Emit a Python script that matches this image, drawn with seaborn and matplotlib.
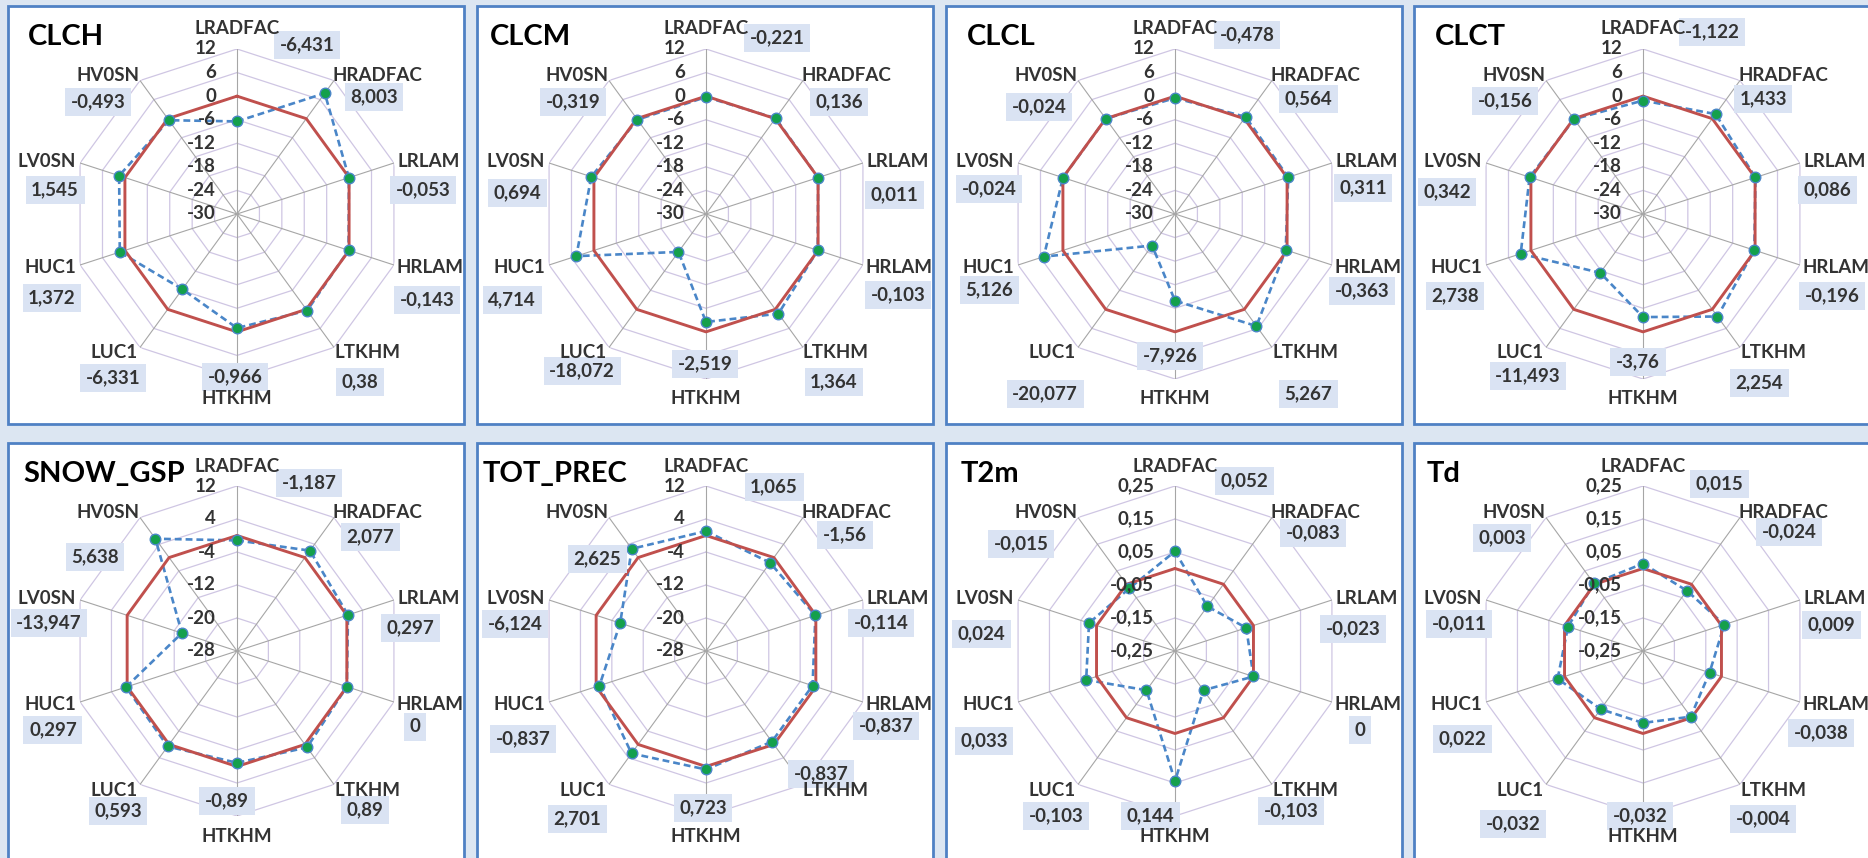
import numpy as np
import matplotlib
matplotlib.use("Agg")
import matplotlib.pyplot as plt
from matplotlib.patches import Rectangle
import seaborn as sns

sns.set_theme(style="white")
plt.rcParams["font.family"] = ["Lato", "DejaVu Sans"]

# ---------------------------------------------------------------- data
categories = ["LRADFAC", "HRADFAC", "LRLAM", "HRLAM", "LTKHM",
              "HTKHM", "LUC1", "HUC1", "LV0SN", "HV0SN"]

panel_names = ["CLCH", "CLCM", "CLCL", "CLCT",
               "SNOW_GSP", "TOT_PREC", "T2m", "Td"]

clch = [-6.431, 8.003, -0.053, -0.143, 0.38, -0.966, -6.331, 1.372, 1.545, -0.493]
clcm = [-0.221, 0.136, 0.011, -0.103, 1.364, -2.519, -18.072, 4.714, 0.694, -0.319]
clcl = [-0.478, 0.564, 0.311, -0.363, 5.267, -7.926, -20.077, 5.126, -0.024, -0.024]
clct = [-1.122, 1.433, 0.086, -0.196, 2.254, -3.76, -11.493, 2.738, 0.342, -0.156]
snow_gsp = [-1.187, 2.077, 0.297, 0, 0.89, -0.89, 0.593, 0.297, -13.947, 5.638]
tot_prec = [1.065, -1.56, -0.114, -0.837, -0.837, 0.723, 2.701, -0.837, -6.124, 2.625]
t2m = [0.052, -0.083, -0.023, 0, -0.103, 0.144, -0.103, 0.033, 0.024, -0.015]
td = [0.015, -0.024, 0.009, -0.038, -0.004, -0.032, -0.032, 0.022, -0.011, 0.003]

reference = 0.0  # baseline series (red polygon)

ticks_cloud = [-30, -24, -18, -12, -6, 0, 6, 12]
ticks_precip = [-28, -20, -12, -4, 4, 12]
ticks_temp = [-0.25, -0.15, -0.05, 0.05, 0.15, 0.25]

series = [clch, clcm, clcl, clct, snow_gsp, tot_prec, t2m, td]
panel_ticks = [ticks_cloud, ticks_cloud, ticks_cloud, ticks_cloud,
               ticks_precip, ticks_precip, ticks_temp, ticks_temp]

# ---------------------------------------------------------------- layout
W, H = 1868, 858
panel_left = [8, 477, 946, 1414]
panel_top = [6, 443]
panel_w, panel_h = 456, 418
radius = 165

# category label centres relative to the radar centre (px, y down)
cat_offsets = [(0, -185), (140, -138), (192, -52), (193, 54), (130, 139),
               (0, 185), (-123, 139), (-187, 54), (-190, -52), (-129, -138)]

# value box centres relative to the radar centre (px, y down)
value_offsets = [
    [(70, -169), (137, -117), (186, -24), (190, 86), (123, 168), (-2, 163), (-124, 164), (-185, 84), (-182, -24), (-139, -112)],
    [(71, -176), (133, -112), (188, -19), (192, 81), (128, 168), (-1, 150), (-124, 157), (-194, 86), (-189, -21), (-133, -112)],
    [(72, -179), (133, -115), (188, -26), (187, 77), (133, 180), (-5, 142), (-130, 180), (-186, 76), (-186, -25), (-136, -107)],
    [(69, -182), (120, -115), (184, -24), (189, 82), (116, 169), (-5, 148), (-115, 162), (-188, 82), (-196, -22), (-138, -113)],
    [(72, -168), (133, -114), (173, -23), (178, 76), (128, 159), (-10, 150), (-119, 160), (-184, 79), (-188, -28), (-142, -94)],
    [(68, -164), (139, -116), (175, -28), (180, 75), (115, 123), (-3, 157), (-129, 168), (-183, 88), (-191, -27), (-109, -92)],
    [(69, -170), (138, -118), (178, -22), (185, 79), (116, 160), (-25, 165), (-119, 165), (-191, 90), (-194, -17), (-154, -107)],
    [(76, -167), (146, -119), (188, -26), (178, 82), (120, 168), (-3, 165), (-130, 173), (-181, 88), (-184, -27), (-141, -113)],
]
title_dx = [20, 13, 21, 21, 15, 6, 15, 13]

# ---------------------------------------------------------------- style
BG = "#dce6f2"
FRAME = "#4f81c4"
RING = "#cfc6e3"
SPOKE = "#a6a6a6"
RED = "#c0504d"
BLUE = "#4a86c8"
GREEN = "#14a04c"
TEXT = "#333333"
BOX = "#dae3f3"
FS = 13.5


def fmt(v):
    s = f"{v:.3f}".rstrip("0").rstrip(".")
    if s in ("-0", ""):
        s = "0"
    return s.replace(".", ",")


fig = plt.figure(figsize=(W / 100, H / 100), dpi=100)
fig.patch.set_facecolor(BG)

n = len(categories)
theta = np.arange(n) * 2 * np.pi / n
theta_closed = np.append(theta, theta[0])

for k, name in enumerate(panel_names):
    row, col = divmod(k, 4)
    px, py = panel_left[col], panel_top[row]
    fig.add_artist(Rectangle((px / W, 1 - (py + panel_h) / H), panel_w / W, panel_h / H,
                             transform=fig.transFigure, facecolor="white",
                             edgecolor=FRAME, linewidth=2, zorder=-1))
    fig.text((px + title_dx[k]) / W, 1 - (py + 18) / H, name, ha="left", va="top",
             fontsize=21, fontweight="bold", color="black")

    cx, cy = px + 229, py + 208
    ax = fig.add_axes([(cx - radius) / W, 1 - (cy + radius) / H,
                       2 * radius / W, 2 * radius / H], projection="polar")
    ax.set_theta_zero_location("N")
    ax.set_theta_direction(-1)
    ticks = panel_ticks[k]
    rmin, rmax = ticks[0], ticks[-1]
    ax.set_ylim(rmin, rmax)
    ax.grid(False)
    ax.spines["polar"].set_visible(False)
    ax.set_xticks([])
    ax.set_yticks([])
    ax.patch.set_alpha(0)

    # polygonal rings and spokes
    for t in ticks[1:]:
        ax.plot(theta_closed, [t] * (n + 1), color=RING, lw=0.9, zorder=1)
    for t in theta:
        ax.plot([t, t], [rmin, rmax], color=SPOKE, lw=0.8, zorder=1)

    vals = np.asarray(series[k], dtype=float)
    vals_closed = np.append(vals, vals[0])
    base_closed = np.full(n + 1, reference)

    sns.lineplot(x=theta_closed, y=vals_closed, ax=ax, sort=False, estimator=None,
                 color=BLUE, lw=1.9, linestyle=(0, (2.6, 1.5)), zorder=3)
    sns.lineplot(x=theta_closed, y=base_closed, ax=ax, sort=False, estimator=None,
                 color=RED, lw=2.1, zorder=4)
    sns.scatterplot(x=theta, y=vals, ax=ax, s=58, color=GREEN, edgecolor=BLUE,
                    linewidth=1.0, zorder=5, clip_on=False)
    ax.set_xlabel("")
    ax.set_ylabel("")
    ax.set_ylim(rmin, rmax)

    # radial tick labels along the top spoke
    for t in ticks:
        frac = (t - rmin) / (rmax - rmin)
        ax.text(0.5 - 21 / (2 * radius), 0.5 + frac / 2, fmt(round(t, 2)),
                transform=ax.transAxes, ha="right", va="center",
                fontsize=FS, fontweight="bold", color=TEXT, zorder=6, clip_on=False)

    # category names and value boxes
    for i, cat in enumerate(categories):
        vx, vy = value_offsets[k][i]
        ax.text(0.5 + vx / (2 * radius), 0.5 - vy / (2 * radius), fmt(vals[i]),
                transform=ax.transAxes, ha="center", va="center",
                fontsize=FS, fontweight="bold", color=TEXT, clip_on=False, zorder=7,
                bbox=dict(boxstyle="square,pad=0.3", facecolor=BOX, edgecolor="none"))
        dx, dy = cat_offsets[i]
        ax.text(0.5 + dx / (2 * radius), 0.5 - dy / (2 * radius), cat,
                transform=ax.transAxes, ha="center", va="center",
                fontsize=FS, fontweight="bold", color=TEXT, clip_on=False, zorder=8)

fig.savefig("out.png", dpi=100, facecolor=BG)
